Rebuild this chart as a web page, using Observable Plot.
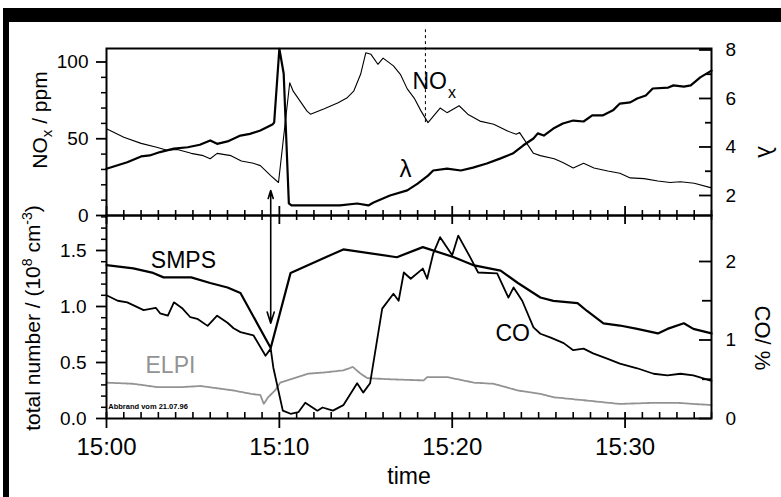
<!DOCTYPE html>
<html>
<head>
<meta charset="utf-8">
<script src="https://cdn.jsdelivr.net/npm/d3@7"></script>
<script src="https://cdn.jsdelivr.net/npm/@observablehq/plot@0.6"></script>
<style>
html, body { margin: 0; padding: 0; background: #fff; }
#chart { position: relative; width: 781px; height: 497px; overflow: hidden; background: #fff;
  font-family: "Liberation Sans", Arial, Helvetica, sans-serif; }
#chart > svg { position: absolute; left: 0; top: 0; }
.bar { position: absolute; background: #000; }
</style>
</head>
<body>
<div id="chart">
  <div class="bar" style="left:4px;top:8px;width:777px;height:14px"></div>
  <div class="bar" style="left:3px;top:8px;width:6px;height:489px"></div>
</div>
<script>
// ---------------- data (minutes after 15:00) ----------------
const noxMin = [0, 1.0, 2.0, 2.9, 3.5, 4.1, 4.9, 5.6, 6.0, 6.4, 7.2, 7.8, 8.5, 8.9, 9.5, 9.95, 10.6, 10.8, 11.6, 11.8,
  12.6, 13.4, 13.9, 14.3, 14.7, 15.0, 15.3, 15.7, 16.0, 16.6, 17.0, 17.4, 17.8, 18.2, 18.6, 19.3, 19.7, 20.4, 20.9, 21.6,
  22.4, 23.2, 23.7, 23.9, 24.4, 24.7, 25.1, 25.9, 26.4, 27.0, 27.6, 28.2, 29.0, 29.7, 30.3, 31.1, 31.9, 32.6, 33.2, 34.0, 35.0];
const noxPpm = [56.5, 51, 47, 44.5, 42.5, 43, 40.5, 39, 37, 40.5, 39, 35.5, 34, 32.5, 26, 21.5, 86.5, 81, 68, 66,
  69.5, 73.5, 76.5, 81, 92, 106, 105, 98.5, 102.5, 97.5, 92, 82.5, 76.5, 68, 60.5, 70, 67, 71.5, 66, 61.5,
  59.5, 55, 53, 54, 45.5, 40.5, 39, 37, 34.5, 31, 34, 31, 29, 27.5, 24.5, 24, 22.5, 21.5, 22, 21, 18];

const lambdaMin = [0, 1.2, 2.0, 2.5, 3.1, 3.9, 4.7, 5.4, 6.0, 6.4, 7.0, 7.75, 8.3, 8.9, 9.6, 9.7, 10.0, 10.25, 10.55, 10.7,
  11.6, 13.5, 14.5, 15.15, 15.45, 16.4, 17.4, 18.0, 18.6, 18.9, 19.7, 20.5, 21.2, 22.0, 22.8, 23.5, 24.1, 24.7, 24.95, 25.3,
  25.85, 26.4, 27.0, 27.6, 28.1, 28.7, 29.3, 29.7, 30.3, 30.7, 31.2, 31.6, 32.5, 32.8, 33.4, 33.8, 34.35, 35.0];
const lambdaVal = [3.1, 3.37, 3.61, 3.65, 3.79, 3.93, 3.99, 4.09, 4.27, 4.13, 4.23, 4.47, 4.54, 4.68, 4.93, 5.01, 8.05, 7.03, 1.67, 1.59,
  1.59, 1.59, 1.67, 1.59, 1.71, 2.0, 2.21, 2.49, 2.82, 3.03, 3.11, 3.03, 3.15, 3.32, 3.53, 3.73, 4.06, 4.35, 4.56, 4.47,
  4.76, 4.97, 5.09, 5.05, 5.3, 5.3, 5.51, 5.79, 5.84, 6.0, 6.12, 6.41, 6.45, 6.54, 6.49, 6.54, 6.87, 7.15];

const smpsMin = [0, 1.55, 2.7, 3.3, 4.3, 4.9, 6.0, 7.0, 7.75, 9.5, 10.65, 13.7, 16.8, 18.3, 20.1, 21.2, 22.8, 23.8, 25.1, 25.85,
  27.25, 27.8, 28.75, 29.7, 30.7, 31.9, 32.45, 33.4, 33.95, 35.0];
const smpsVal = [1.37, 1.34, 1.30, 1.26, 1.26, 1.26, 1.21, 1.17, 1.12, 0.63, 1.30, 1.51, 1.44, 1.53, 1.44, 1.37, 1.32, 1.21, 1.08, 1.05,
  1.03, 0.96, 0.85, 0.83, 0.80, 0.76, 0.80, 0.85, 0.80, 0.76];

const coMin = [0, 0.65, 1.2, 2.15, 2.85, 3.1, 3.55, 3.9, 4.4, 4.85, 5.25, 5.85, 6.4, 7.0, 7.35, 7.75, 8.5, 9.2, 9.5, 9.65,
  10.2, 10.65, 11.1, 11.5, 12.2, 12.5, 13.1, 13.7, 14.5, 14.85, 15.25, 15.95, 16.6, 16.9, 17.2, 17.6, 18.3, 18.55, 18.9, 19.3,
  20.0, 20.35, 21.05, 21.5, 22.6, 23.25, 23.55, 24.05, 24.7, 25.1, 25.7, 26.45, 27.0, 27.6, 28.15, 29.0, 29.7, 30.7, 31.65, 32.45,
  33.2, 33.95, 35.0];
const coPct = [1.57, 1.50, 1.48, 1.38, 1.41, 1.34, 1.31, 1.48, 1.40, 1.29, 1.27, 1.18, 1.31, 1.22, 1.15, 1.10, 1.06, 0.80, 0.89, 0.65,
  0.10, 0.06, 0.08, 0.20, 0.10, 0.14, 0.10, 0.17, 0.45, 0.33, 0.45, 1.40, 1.59, 1.50, 1.86, 1.78, 1.91, 1.78, 2.10, 2.31,
  2.08, 2.33, 2.05, 1.86, 1.85, 1.54, 1.67, 1.50, 1.16, 1.08, 1.03, 0.96, 0.87, 0.89, 0.83, 0.76, 0.70, 0.64, 0.57, 0.55,
  0.57, 0.55, 0.48];

const elpiMin = [0, 1.55, 2.95, 4.3, 5.45, 6.4, 7.35, 8.35, 8.9, 9.1, 9.35, 9.75, 10.05, 11.05, 11.65, 12.55, 13.7, 14.25, 14.7, 15.1,
  16.45, 18.35, 18.55, 19.7, 21.25, 22.4, 23.8, 25.1, 25.85, 27.8, 29.7, 31.65, 33.0, 33.95, 35.0];
const elpiVal = [0.32, 0.31, 0.28, 0.28, 0.29, 0.27, 0.25, 0.22, 0.21, 0.13, 0.19, 0.25, 0.32, 0.37, 0.40, 0.41, 0.43, 0.46, 0.40, 0.36,
  0.35, 0.34, 0.37, 0.37, 0.32, 0.31, 0.25, 0.22, 0.19, 0.16, 0.13, 0.14, 0.14, 0.13, 0.12];

// tick values / labels
const timeTickMin = [0, 10, 20, 30];
const timeTickLabels = ["15:00", "15:10", "15:20", "15:30"];
const noxTicks = [0, 50, 100];
const lambdaTicks = [2, 4, 6, 8];
const numberTicks = [0, 0.5, 1.0, 1.5];
const coTicks = [0, 1, 2];

// ---------------- layout ----------------
const W = 781, H = 497;
const X0 = 106, X1 = 711, YT = 48, YM = 215, YB = 418;
const PW = X1 - X0, TOPH = YM - YT, BOTH = YB - YM;
const FONT = '"Liberation Sans", Arial, Helvetica, sans-serif';
const t0 = Date.UTC(1996, 6, 21, 15, 0);
const T = m => new Date(t0 + m * 60000);
const rows = (mins, vals) => mins.map((m, i) => ({t: T(m), v: vals[i]}));
const fmtTime = d => timeTickLabels[timeTickMin.indexOf(Math.round((d - t0) / 60000))];
const fmtInt = d => String(d);

const noxData = rows(noxMin, noxPpm);
const lambdaData = rows(lambdaMin, lambdaVal);
const smpsData = rows(smpsMin, smpsVal);
const coData = rows(coMin, coPct);
const elpiData = rows(elpiMin, elpiVal);

const allMinutes = d3.range(0, 36);
const minorMinutes = allMinutes.filter(m => m % 10 !== 0);
const majorMinutes = allMinutes.filter(m => m % 10 === 0);

const xOpt = {type: "utc", domain: [T(0), T(35)], axis: null};
const base = (top, bottom) => ({
  width: W, height: H, marginLeft: X0, marginRight: W - X1, marginTop: top, marginBottom: H - bottom,
  style: `background:transparent;overflow:visible;font-family:${FONT};color:#000;`,
  x: xOpt
});

const chart = document.getElementById("chart");

// ---- top panel, left axis: NOx ----
const pNox = Plot.plot({
  ...base(YT, YM),
  y: {domain: [0, 108.8], axis: null},
  marks: [
    Plot.axisY({ticks: noxTicks, anchor: "left", tickSize: 10, tickPadding: 8, fontSize: 19, strokeWidth: 1.8,
      tickFormat: fmtInt, label: null}),
    Plot.axisY({ticks: d3.range(10, 110, 10).filter(v => v % 50), anchor: "left", tickSize: 5, fill: "none", strokeWidth: 1.5, label: null}),
    Plot.tickX(minorMinutes, {x: d => T(d), insetTop: TOPH - 5, insetBottom: -5, strokeWidth: 1.6}),
    Plot.tickX(majorMinutes, {x: d => T(d), insetTop: TOPH - 9, insetBottom: -9, strokeWidth: 1.8}),
    Plot.ruleX([{t: T(18.45), a: 60.5, b: 121}], {x: "t", y1: "a", y2: "b", strokeDasharray: "3,3", strokeWidth: 1}),
    Plot.line(noxData, {x: "t", y: "v", stroke: "#000", strokeWidth: 1.1}),
    Plot.arrow([{t: T(9.5), a: 0, b: 16.3}], {x1: "t", x2: "t", y1: "a", y2: "b", headLength: 11, headAngle: 35, strokeWidth: 1.6}),
    Plot.text([{t: T(17.7), v: 87.5, s: "NO"}], {x: "t", y: "v", text: "s", textAnchor: "start", fontSize: 23}),
    Plot.text([{t: T(19.75), v: 80, s: "x"}], {x: "t", y: "v", text: "s", textAnchor: "start", fontSize: 16}),
    Plot.frame({strokeWidth: 2})
  ]
});

// ---- top panel, right axis: lambda ----
const pLambda = Plot.plot({
  ...base(YT, YM),
  y: {domain: [1.175, 8.06], axis: null},
  marks: [
    Plot.axisY({ticks: lambdaTicks, anchor: "right", tickSize: 0, tickPadding: 14, fontSize: 19, tickFormat: fmtInt, label: null}),
    Plot.tickY(lambdaTicks, {y: d => d, insetLeft: PW - 12, strokeWidth: 1.8}),
    Plot.tickY([3, 5, 7], {y: d => d, insetLeft: PW - 6, strokeWidth: 1.8}),
    Plot.line(lambdaData, {x: "t", y: "v", stroke: "#000", strokeWidth: 2.2}),
    Plot.text([{t: T(17.3), v: 3.07, s: "λ"}], {x: "t", y: "v", text: "s", fontSize: 24})
  ]
});

// ---- bottom panel, left axis: total number ----
const pNum = Plot.plot({
  ...base(YM, YB),
  y: {domain: [0, 1.8125], axis: null},
  marks: [
    Plot.axisY({ticks: numberTicks, anchor: "left", tickSize: 10, tickPadding: 10, fontSize: 19, strokeWidth: 1.8,
      tickFormat: d3.format(".1f"), label: null}),
    Plot.axisY({ticks: d3.range(1, 19).map(v => v / 10).filter(v => Math.round(v * 10) % 5), anchor: "left", tickSize: 5,
      fill: "none", strokeWidth: 1.5, label: null}),
    Plot.axisX({ticks: timeTickMin.map(T), anchor: "bottom", tickSize: 0, tickPadding: 19, fontSize: 24,
      tickFormat: fmtTime, label: null}),
    Plot.tickX(minorMinutes, {x: d => T(d), insetTop: BOTH - 6, strokeWidth: 1.6}),
    Plot.tickX(majorMinutes, {x: d => T(d), insetTop: BOTH - 6, insetBottom: -10, strokeWidth: 1.8}),
    Plot.line(elpiData, {x: "t", y: "v", stroke: "#939393", strokeWidth: 1.8, strokeDasharray: "2.5,0.8"}),
    Plot.line(smpsData, {x: "t", y: "v", stroke: "#000", strokeWidth: 2.2}),
    Plot.arrow([{t: T(9.5), a: 1.8125, b: 0.85}], {x1: "t", x2: "t", y1: "a", y2: "b", headLength: 11, headAngle: 35, strokeWidth: 1.6}),
    Plot.text([{t: T(4.45), v: 1.41, s: "SMPS"}], {x: "t", y: "v", text: "s", fontSize: 23}),
    Plot.text([{t: T(3.7), v: 0.475, s: "ELPI"}], {x: "t", y: "v", text: "s", fontSize: 23, fill: "#939393"}),
    Plot.text([{t: T(0.1), v: 0.11, s: "Abbrand vom 21.07.96"}], {x: "t", y: "v", text: "s", textAnchor: "start",
      fontSize: 7.5, fontWeight: "bold"}),
    Plot.frame({strokeWidth: 2})
  ]
});

// ---- bottom panel, right axis: CO ----
const pCO = Plot.plot({
  ...base(YM, YB),
  y: {domain: [0, 2.586], axis: null},
  marks: [
    Plot.axisY({ticks: coTicks, anchor: "right", tickSize: 0, tickPadding: 14, fontSize: 19, tickFormat: fmtInt, label: null}),
    Plot.tickY(coTicks, {y: d => d, insetLeft: PW - 12, strokeWidth: 1.8}),
    Plot.tickY([0.5, 1.5], {y: d => d, insetLeft: PW - 9, strokeWidth: 1.8}),
    Plot.line(coData, {x: "t", y: "v", stroke: "#000", strokeWidth: 1.8}),
    Plot.text([{t: T(23.5), v: 1.08, s: "CO"}], {x: "t", y: "v", text: "s", fontSize: 23})
  ]
});

[pNox, pLambda, pNum, pCO].forEach(p => chart.appendChild(p));

// ---- axis titles ----
const svg = d3.select(chart).append("svg")
  .attr("width", W).attr("height", H)
  .style("font-family", FONT);

const t1 = svg.append("text").attr("transform", "translate(47,120) rotate(-90)")
  .attr("text-anchor", "middle").attr("font-size", 21);
t1.append("tspan").text("NO");
t1.append("tspan").attr("dy", 5).attr("font-size", 15).text("x");
t1.append("tspan").attr("dy", -5).text(" / ppm");

const t2 = svg.append("text").attr("transform", "translate(40,318) rotate(-90)")
  .attr("text-anchor", "middle").attr("font-size", 21);
t2.append("tspan").text("total number  / (10");
t2.append("tspan").attr("dy", -8).attr("font-size", 14).text("8");
t2.append("tspan").attr("dy", 8).text(" cm");
t2.append("tspan").attr("dy", -8).attr("font-size", 14).text("-3");
t2.append("tspan").attr("dy", 8).text(")");

svg.append("text").attr("transform", "translate(766,152) rotate(90)")
  .attr("text-anchor", "middle").attr("dominant-baseline", "central").attr("font-size", 24).text("λ");
svg.append("text").attr("transform", "translate(762,338) rotate(90)")
  .attr("text-anchor", "middle").attr("dominant-baseline", "central").attr("font-size", 22).text("CO/ %");
svg.append("text").attr("x", 409).attr("y", 484)
  .attr("text-anchor", "middle").attr("font-size", 23).text("time");
</script>
</body>
</html>
